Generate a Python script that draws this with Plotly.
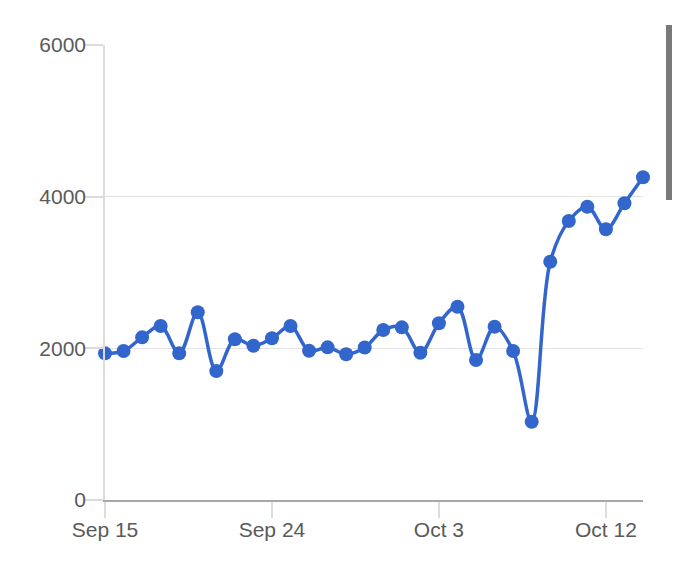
import plotly.graph_objects as go
import pandas as pd

dates = pd.date_range("2023-09-15", "2023-10-14", freq="D").strftime("%Y-%m-%d").tolist()
values = [1934, 1964, 2145, 2294, 1934, 2475, 1700, 2119, 2034, 2132,
          2294, 1968, 2013, 1922, 2011, 2241, 2277, 1942, 2330, 2549,
          1846, 2285, 1964, 1032, 3142, 3679, 3868, 3570, 3913, 4256]
x_tick_vals = ["2023-09-15", "2023-09-24", "2023-10-03", "2023-10-12"]
x_tick_text = ["Sep 15", "Sep 24", "Oct 3", "Oct 12"]
y_tick_vals = [0, 2000, 4000, 6000]

BLUE = "#3366CC"
FONT = "Liberation Sans, Arial, sans-serif"

fig = go.Figure()
fig.add_trace(go.Scatter(
    x=dates, y=values, mode="lines+markers",
    line=dict(color=BLUE, width=3.5, shape="spline", smoothing=1.0),
    marker=dict(color=BLUE, size=14),
    cliponaxis=False, hoverinfo="x+y", showlegend=False,
))

fig.update_layout(
    width=672, height=572,
    margin=dict(l=97, r=37, t=37, b=80),
    paper_bgcolor="white", plot_bgcolor="white",
    font=dict(family=FONT, size=21, color="#5a5a5a"),
    xaxis=dict(
        type="date", range=[dates[0], dates[-1]],
        tickvals=x_tick_vals, ticktext=x_tick_text,
        showgrid=False, zeroline=False,
        showline=True, linecolor="#a8a8a8", linewidth=2,
        ticks="outside", ticklen=16, tickcolor="#dcdcdc", tickwidth=1.5,
        ticklabelstandoff=-6,
        tickfont=dict(size=21, color="#5a5a5a"),
    ),
    yaxis=dict(
        range=[0, 6000], tickvals=y_tick_vals,
        showgrid=True, gridcolor="#e2e2e2", gridwidth=1,
        zeroline=False,
        showline=True, linecolor="#dcdcdc", linewidth=1.5,
        ticks="outside", ticklen=18, tickcolor="#dcdcdc", tickwidth=1.5,
        ticklabelstandoff=-5,
        tickfont=dict(size=21, color="#5a5a5a"),
    ),
    shapes=[dict(
        type="rect", xref="paper", yref="paper", layer="above",
        x0=(666 - 105) / 538, x1=(672 - 105) / 538,
        y0=(500 - 200) / 455, y1=(500 - 25) / 455,
        fillcolor="#7a7a7a", line=dict(width=0),
    )],
)

fig.write_html("out.html")
